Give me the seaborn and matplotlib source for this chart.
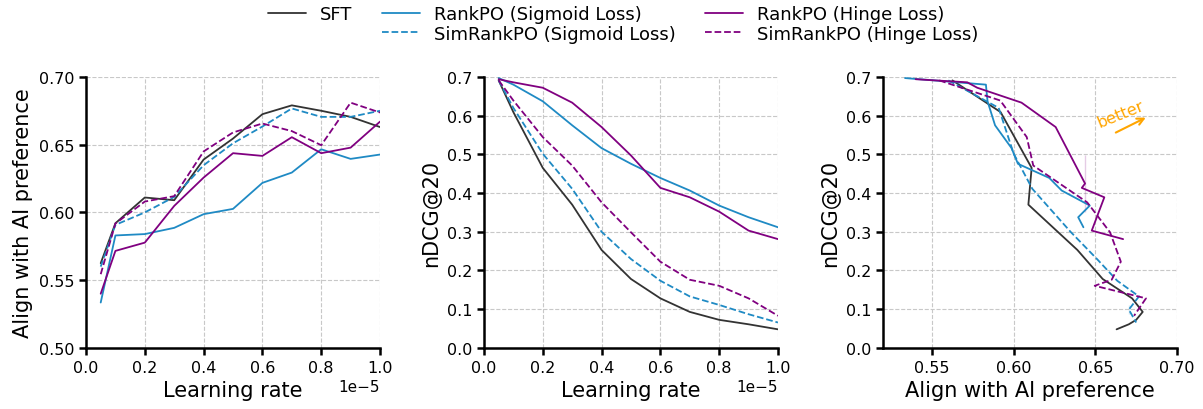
import numpy as np
import pandas as pd
import matplotlib
matplotlib.use("Agg")
import matplotlib.pyplot as plt
import seaborn as sns
from matplotlib.lines import Line2D

# ---------------- data ----------------
learning_rate = [0.05e-5, 0.1e-5, 0.2e-5, 0.3e-5, 0.4e-5, 0.5e-5, 0.6e-5, 0.7e-5, 0.8e-5, 0.9e-5, 1.0e-5]

series_names = ["SFT", "RankPO (Sigmoid Loss)", "SimRankPO (Sigmoid Loss)",
                "RankPO (Hinge Loss)", "SimRankPO (Hinge Loss)"]

sft_align = [0.5625, 0.592, 0.611, 0.609, 0.639, 0.6545, 0.6725, 0.679, 0.675, 0.6705, 0.663]
sft_ndcg = [0.691, 0.609, 0.465, 0.370, 0.253, 0.178, 0.128, 0.093, 0.0725, 0.061, 0.048]

rank_sig_align = [0.5335, 0.583, 0.584, 0.5886, 0.5987, 0.6026, 0.6218, 0.6294, 0.6466, 0.6395, 0.6427]
rank_sig_ndcg = [0.697, 0.680, 0.637, 0.575, 0.516, 0.4756, 0.439, 0.4065, 0.3677, 0.3375, 0.3116]

sim_sig_align = [0.560, 0.5908, 0.600, 0.6114, 0.6348, 0.651, 0.6634, 0.6767, 0.6705, 0.6705, 0.675]
sim_sig_ndcg = [0.691, 0.620, 0.5015, 0.411, 0.300, 0.2296, 0.1735, 0.133, 0.111, 0.087, 0.0656]

rank_hinge_align = [0.540, 0.5716, 0.5777, 0.6048, 0.6257, 0.6437, 0.6417, 0.6555, 0.6437, 0.6478, 0.667]
rank_hinge_ndcg = [0.694, 0.686, 0.672, 0.6335, 0.5705, 0.497, 0.4134, 0.389, 0.352, 0.303, 0.281]

sim_hinge_align = [0.5544, 0.5918, 0.608, 0.612, 0.645, 0.659, 0.6656, 0.660, 0.6496, 0.681, 0.6737]
sim_hinge_ndcg = [0.691, 0.639, 0.5446, 0.471, 0.376, 0.2986, 0.2227, 0.176, 0.1605, 0.128, 0.083]

# ---------------- styles ----------------
c_black = "#333333"
c_blue = "#1f8ac4"
c_purple = "#800080"
styles = {
    "SFT": dict(color=c_black, ls="-"),
    "RankPO (Sigmoid Loss)": dict(color=c_blue, ls="-"),
    "SimRankPO (Sigmoid Loss)": dict(color=c_blue, ls="--"),
    "RankPO (Hinge Loss)": dict(color=c_purple, ls="-"),
    "SimRankPO (Hinge Loss)": dict(color=c_purple, ls="--"),
}

aligns = [sft_align, rank_sig_align, sim_sig_align, rank_hinge_align, sim_hinge_align]
ndcgs = [sft_ndcg, rank_sig_ndcg, sim_sig_ndcg, rank_hinge_ndcg, sim_hinge_ndcg]

sns.set_theme(style="ticks")
plt.rcParams["font.family"] = ["DejaVu Sans"]
plt.rcParams["text.color"] = "black"
plt.rcParams["axes.labelcolor"] = "black"
plt.rcParams["xtick.color"] = "black"
plt.rcParams["ytick.color"] = "black"

fig = plt.figure(figsize=(12.03, 4.10), dpi=100)
w = 0.2444
bottom = 0.149
h = 0.810 - 0.149
ax1 = fig.add_axes([0.0715, bottom, w, h])
ax2 = fig.add_axes([0.4023, bottom, w, h])
ax3 = fig.add_axes([0.734, bottom, w, h])

lw = 1.3
for name, a, n in zip(series_names, aligns, ndcgs):
    st = styles[name]
    sns.lineplot(x=learning_rate, y=a, ax=ax1, color=st["color"], linestyle=st["ls"], lw=lw)
    sns.lineplot(x=learning_rate, y=n, ax=ax2, color=st["color"], linestyle=st["ls"], lw=lw)
    sns.lineplot(x=a, y=n, ax=ax3, sort=False, color=st["color"], linestyle=st["ls"], lw=lw)

tick_fs = 11.5
label_fs = 15

for ax in (ax1, ax2, ax3):
    ax.grid(True, ls="--", color="#c8c8c8", lw=0.8)
    sns.despine(ax=ax)
    for s in ("left", "bottom"):
        ax.spines[s].set_linewidth(1.8)
        ax.spines[s].set_color("black")
    ax.tick_params(axis="both", labelsize=tick_fs, width=1.8, length=5,
                   color="black", labelcolor="black")

ax1.set_xlim(0, 1.0e-5)
ax1.set_ylim(0.5, 0.7)
ax1.set_xticks(np.arange(0, 1.01e-5, 0.2e-5))
ax1.set_yticks([0.50, 0.55, 0.60, 0.65, 0.70])
ax1.set_yticklabels(["0.50", "0.55", "0.60", "0.65", "0.70"])
ax1.set_xlabel("Learning rate", fontsize=label_fs, color="black")
ax1.set_ylabel("Align with AI preference", fontsize=label_fs, color="black")

ax2.set_xlim(0, 1.0e-5)
ax2.set_ylim(0, 0.7)
ax2.set_xticks(np.arange(0, 1.01e-5, 0.2e-5))
ax2.set_yticks(np.arange(0, 0.71, 0.1))
ax2.set_xlabel("Learning rate", fontsize=label_fs, color="black")
ax2.set_ylabel("nDCG@20", fontsize=label_fs, color="black")

for ax in (ax1, ax2):
    ax.xaxis.get_offset_text().set_fontsize(11)
    ax.xaxis.get_offset_text().set_color("black")

ax3.set_xlim(0.52, 0.70)
ax3.set_ylim(0, 0.7)
ax3.set_xticks([0.55, 0.60, 0.65, 0.70])
ax3.set_xticklabels(["0.55", "0.60", "0.65", "0.70"])
ax3.set_yticks(np.arange(0, 0.71, 0.1))
ax3.set_xlabel("Align with AI preference", fontsize=label_fs, color="black")
ax3.set_ylabel("nDCG@20", fontsize=label_fs, color="black")

ax3.annotate("", xy=(0.6824, 0.598), xytext=(0.661, 0.553),
             arrowprops=dict(arrowstyle="->", color="orange", lw=1.5))
ax3.text(0.6655, 0.604, "better", color="orange", fontsize=11.5,
         rotation=22, ha="center", va="center")

# legend
handles = [Line2D([], [], color=c_black, ls="-", lw=lw),
           Line2D([], [], color="none"),
           Line2D([], [], color=c_blue, ls="-", lw=lw),
           Line2D([], [], color=c_blue, ls="--", lw=lw),
           Line2D([], [], color=c_purple, ls="-", lw=lw),
           Line2D([], [], color=c_purple, ls="--", lw=lw)]
labels = ["SFT", "", "RankPO (Sigmoid Loss)", "SimRankPO (Sigmoid Loss)",
          "RankPO (Hinge Loss)", "SimRankPO (Hinge Loss)"]
fig.legend(handles, labels, ncol=3, loc="upper center", bbox_to_anchor=(0.518, 1.025),
           frameon=False, fontsize=13, handlelength=2.1, columnspacing=1.6,
           labelspacing=0.1, handletextpad=0.8)

fig.savefig("out.png", dpi=100)
